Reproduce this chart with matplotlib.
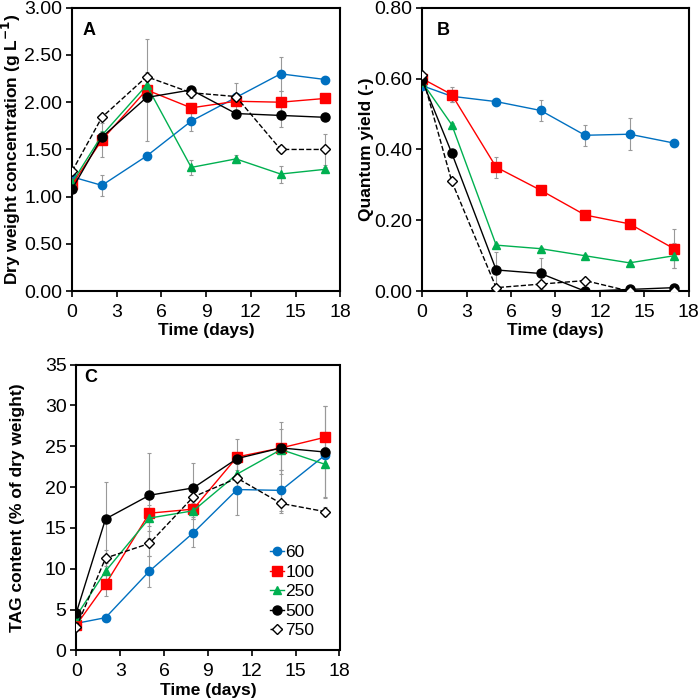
import matplotlib
matplotlib.use('Agg')
import matplotlib.pyplot as plt

plt.rcParams['font.family'] = ['Liberation Sans', 'DejaVu Sans']
plt.rcParams['font.size'] = 12

days = [0, 2, 5, 8, 11, 14, 17]
labels = ['60', '100', '250', '500', '750']

# dry weight (g/L)
dw = {
    '60':  [1.21, 1.12, 1.43, 1.80, 2.05, 2.30, 2.24],
    '100': [1.13, 1.60, 2.13, 1.94, 2.01, 2.00, 2.04],
    '250': [1.15, 1.65, 2.18, 1.31, 1.40, 1.24, 1.29],
    '500': [1.08, 1.63, 2.05, 2.13, 1.88, 1.86, 1.84],
    '750': [1.27, 1.84, 2.27, 2.10, 2.06, 1.50, 1.50],
}
dw_err = {
    '60':  [0.03, 0.11, 0.04, 0.10, 0.05, 0.18, 0.02],
    '100': [0.02, 0.18, 0.54, 0.05, 0.03, 0.12, 0.02],
    '250': [0.02, 0.05, 0.04, 0.08, 0.04, 0.09, 0.02],
    '500': [0.02, 0.05, 0.05, 0.04, 0.04, 0.12, 0.02],
    '750': [0.02, 0.02, 0.05, 0.06, 0.14, 0.03, 0.16],
}

# quantum yield (-)
qy = {
    '60':  [0.58, 0.55, 0.535, 0.51, 0.44, 0.443, 0.418],
    '100': [0.60, 0.555, 0.35, 0.285, 0.215, 0.19, 0.12],
    '250': [0.59, 0.47, 0.13, 0.12, 0.10, 0.08, 0.10],
    '500': [0.595, 0.39, 0.06, 0.05, 0.0, 0.005, 0.01],
    '750': [0.61, 0.31, 0.01, 0.02, 0.03, 0.0, 0.0],
}
qy_err = {
    '60':  [0.005, 0.015, 0.005, 0.03, 0.03, 0.045, 0.005],
    '100': [0.005, 0.02, 0.03, 0.005, 0.005, 0.015, 0.055],
    '250': [0.005, 0.005, 0.005, 0.005, 0.005, 0.005, 0.035],
    '500': [0.005, 0.005, 0.05, 0.045, 0.002, 0.003, 0.005],
    '750': [0.003, 0.005, 0.005, 0.005, 0.005, 0.002, 0.002],
}

# TAG content (% of dry weight)
tag = {
    '60':  [3.3, 4.0, 9.7, 14.4, 19.7, 19.6, 23.9],
    '100': [3.1, 8.1, 16.8, 17.3, 23.7, 24.8, 26.1],
    '250': [4.2, 9.7, 16.2, 17.1, 21.6, 24.6, 22.8],
    '500': [4.6, 16.1, 19.0, 19.9, 23.5, 24.8, 24.3],
    '750': [2.8, 11.3, 13.1, 18.8, 21.1, 18.0, 17.0],
}
tag_err = {
    '60':  [0.3, 0.3, 1.9, 1.7, 3.1, 2.5, 1.0],
    '100': [0.3, 1.4, 1.0, 1.0, 2.2, 3.2, 3.8],
    '250': [0.3, 1.0, 1.0, 1.0, 2.0, 2.5, 4.0],
    '500': [0.3, 4.5, 5.2, 3.0, 0.5, 0.5, 5.6],
    '750': [0.3, 1.0, 1.5, 1.0, 1.0, 1.2, 0.5],
}

styles = {
    '60':  dict(color='#0070C0', marker='o', ms=6, mfc='#0070C0', ls='-'),
    '100': dict(color='#FF0000', marker='s', ms=6.5, mfc='#FF0000', ls='-'),
    '250': dict(color='#00B050', marker='^', ms=6, mfc='#00B050', ls='-'),
    '500': dict(color='black', marker='o', ms=6.5, mfc='black', ls='-'),
    '750': dict(color='black', marker='D', ms=5, mfc='white', ls='--'),
}

fig = plt.figure(figsize=(7, 7), dpi=100)
axA = fig.add_axes([0.103, 0.584, 0.383, 0.405])
axB = fig.add_axes([0.603, 0.584, 0.381, 0.405])
axC = fig.add_axes([0.109, 0.071, 0.376, 0.408])


def draw(ax, data, err):
    for k in labels:
        ax.errorbar(days, data[k], yerr=err[k], fmt='none', ecolor='#999999',
                    elinewidth=0.8, capsize=1.5, capthick=0.8, zorder=1)
    for k in labels:
        st = styles[k]
        ax.plot(days, data[k], color=st['color'], ls=st['ls'], lw=1,
                marker=st['marker'], ms=st['ms'], mfc=st['mfc'],
                mec=st['color'], mew=1, label=k, zorder=3)
    ax.set_xlim(0, 18)
    ax.set_xticks(range(0, 19, 3))
    ax.set_xlabel('Time (days)', fontweight='bold', fontsize=12.5, labelpad=2)
    for s in ax.spines.values():
        s.set_linewidth(1.5)
    ax.tick_params(direction='out', length=4, width=1.2, labelsize=14)
    ax.tick_params(axis='x', pad=5)
    ax.tick_params(axis='y', pad=3)


draw(axA, dw, dw_err)
axA.set_ylim(0, 3)
axA.set_yticks([0, 0.5, 1, 1.5, 2, 2.5, 3])
axA.set_yticklabels(['%.2f' % v for v in axA.get_yticks()])
axA.set_ylabel('Dry weight concentration (g L$^{\\mathbf{-1}}$)', fontweight='bold',
               fontsize=12.5, labelpad=1)
axA.text(0.04, 0.92, 'A', transform=axA.transAxes, fontweight='bold', fontsize=13, va='center')

draw(axB, qy, qy_err)
axB.set_ylim(0, 0.8)
axB.set_yticks([0, 0.2, 0.4, 0.6, 0.8])
axB.set_yticklabels(['%.2f' % v for v in axB.get_yticks()])
axB.set_ylabel('Quantum yield (-)', fontweight='bold', fontsize=12.5, labelpad=0)
axB.text(0.055, 0.92, 'B', transform=axB.transAxes, fontweight='bold', fontsize=13, va='center')

draw(axC, tag, tag_err)
axC.set_ylim(0, 35)
axC.set_yticks(range(0, 36, 5))
axC.set_ylabel('TAG content (% of dry weight)', fontweight='bold', fontsize=12.5, labelpad=14)
axC.text(0.03, 0.955, 'C', transform=axC.transAxes, fontweight='bold', fontsize=13, va='center')
axC.legend(loc='lower right', frameon=False, handlelength=0.8, handletextpad=0.05,
           labelspacing=0.25, borderaxespad=0.3, bbox_to_anchor=(0.95, 0.0), fontsize=12.5)

fig.savefig('out.png', dpi=100)
